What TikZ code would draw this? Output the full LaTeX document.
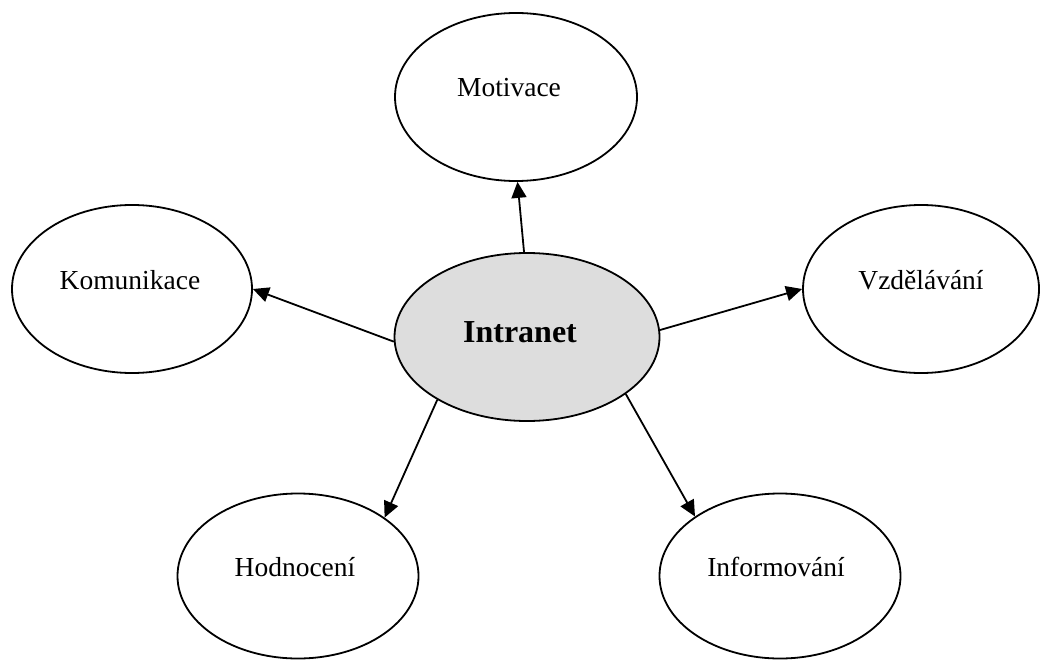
\documentclass[tikz,border=0pt]{standalone}
\usepackage{fontspec}
\setmainfont{Liberation Serif}
\usetikzlibrary{shapes.geometric,arrows.meta}
\definecolor{centerfill}{RGB}{221,221,221}
\begin{document}
\begin{tikzpicture}[x=1pt,y=-1pt,
  bubble/.style={ellipse,draw=black,line width=1.8pt,fill=white,inner sep=0pt,
    minimum width=242pt,minimum height=168pt,text height=20pt,text depth=20pt,
    font=\fontsize{27.5}{32}\selectfont},
  hub/.style={bubble,fill=centerfill,minimum width=265pt,minimum height=168pt,
    text height=25pt,text depth=15pt,font=\fontsize{32}{36}\selectfont\bfseries},
  link/.style={line width=1.8pt,-{Triangle[length=16pt,width=15pt]}}]
\useasboundingbox (0,0) rectangle (1040,660);
\node[hub] (intranet) at (527,337) {Intranet\kern14pt};
\node[bubble] (motivace) at (516,97) {Motivace\kern14pt};
\node[bubble,minimum width=240pt] (komunikace) at (132,289) {Komunikace\kern4pt};
\node[bubble,minimum width=236pt] (vzdelavani) at (921,289) {Vzdělávání};
\node[bubble,minimum width=241pt,minimum height=165pt] (hodnoceni) at (298,576) {Hodnocení\kern6pt};
\node[bubble,minimum width=241pt,minimum height=165pt] (informovani) at (780,576) {Informování\kern8pt};
\draw[link] (intranet.92.7) -- (motivace.-89.3);
\draw[link] (intranet.182.6) -- (komunikace.-0.5);
\draw[link] (intranet.3) -- (vzdelavani.180.5);
\draw[link] (intranet.215.8) -- (hodnoceni.34.1);
\draw[link] (intranet.330.3) -- (informovani.145.5);
\end{tikzpicture}
\end{document}
